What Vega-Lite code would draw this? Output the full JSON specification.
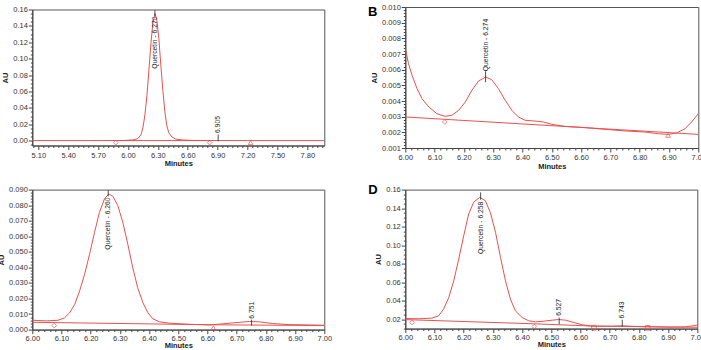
{
  "$schema": "https://vega.github.io/schema/vega-lite/v6.json",
  "background": "white",
  "padding": {"left": -3.7, "top": 2, "right": 0, "bottom": 0},
  "config": {
    "font": "Liberation Sans",
    "view": {"stroke": "#555", "strokeWidth": 1},
    "axis": {"labelFont": "Liberation Sans", "labelFontSize": 7.5, "labelColor": "#333", "titleFont": "Liberation Sans", "titleFontSize": 7.5, "titleFontWeight": "bold", "titleColor": "#222", "domainColor": "#444", "tickColor": "#444", "grid": false, "labelOverlap": false, "labelFlush": false, "labelBound": false, "tickSize": 3}
  },
  "datasets": {
    "A": [
      {"t": 5.04, "au": 0, "s": "c"}, {"t": 5.6, "au": 0, "s": "c"}, {"t": 5.95, "au": 0.0001, "s": "c"}, {"t": 6.05, "au": 0.0008, "s": "c"}, {"t": 6.1, "au": 0.0025, "s": "c"}, {"t": 6.13, "au": 0.007, "s": "c"}, {"t": 6.15, "au": 0.0157, "s": "c"}, {"t": 6.17, "au": 0.0313, "s": "c"}, {"t": 6.19, "au": 0.055, "s": "c"}, {"t": 6.21, "au": 0.0858, "s": "c"}, {"t": 6.23, "au": 0.118, "s": "c"}, {"t": 6.25, "au": 0.144, "s": "c"}, {"t": 6.272, "au": 0.155, "s": "c"}, {"t": 6.29, "au": 0.147, "s": "c"}, {"t": 6.31, "au": 0.124, "s": "c"}, {"t": 6.33, "au": 0.092, "s": "c"}, {"t": 6.35, "au": 0.061, "s": "c"}, {"t": 6.37, "au": 0.0354, "s": "c"}, {"t": 6.39, "au": 0.0182, "s": "c"}, {"t": 6.41, "au": 0.0095, "s": "c"}, {"t": 6.44, "au": 0.0045, "s": "c"}, {"t": 6.48, "au": 0.0018, "s": "c"}, {"t": 6.55, "au": 0.0007, "s": "c"}, {"t": 6.65, "au": 0.0002, "s": "c"}, {"t": 6.8, "au": 0.0001, "s": "c"}, {"t": 7.2, "au": 0, "s": "c"}, {"t": 7.97, "au": 0, "s": "c"},
      {"t": 5.878, "au": 0, "s": "b"}, {"t": 6.819, "au": 0, "s": "b"}
    ],
    "Am": [{"t": 5.878, "au": -0.0025, "m": "d"}, {"t": 6.819, "au": -0.0025, "m": "d"}, {"t": 7.23, "au": -0.0025, "m": "t"}],
    "Ar": [{"t": 6.27, "au": 0.1525, "hi": 0.159}, {"t": 6.905, "au": -0.001, "hi": 0.0075}],
    "Al": [{"t": 6.27, "au": 0.1515, "label": "Quercetin - 6.270", "dir": "d"}, {"t": 6.905, "au": 0.0092, "label": "6.905", "dir": "u"}],
    "B": [
      {"t": 6.0, "au": 0.00734, "s": "c"}, {"t": 6.011, "au": 0.00638, "s": "c"}, {"t": 6.023, "au": 0.00564, "s": "c"}, {"t": 6.04, "au": 0.00479, "s": "c"}, {"t": 6.057, "au": 0.00415, "s": "c"}, {"t": 6.08, "au": 0.00362, "s": "c"}, {"t": 6.108, "au": 0.00319, "s": "c"}, {"t": 6.136, "au": 0.00302, "s": "c"}, {"t": 6.159, "au": 0.00309, "s": "c"}, {"t": 6.182, "au": 0.0034, "s": "c"}, {"t": 6.205, "au": 0.00394, "s": "c"}, {"t": 6.227, "au": 0.00468, "s": "c"}, {"t": 6.25, "au": 0.00528, "s": "c"}, {"t": 6.275, "au": 0.00553, "s": "c"}, {"t": 6.295, "au": 0.00536, "s": "c"}, {"t": 6.318, "au": 0.00479, "s": "c"}, {"t": 6.341, "au": 0.00404, "s": "c"}, {"t": 6.364, "au": 0.0034, "s": "c"}, {"t": 6.386, "au": 0.00298, "s": "c"}, {"t": 6.409, "au": 0.00277, "s": "c"}, {"t": 6.443, "au": 0.00272, "s": "c"}, {"t": 6.472, "au": 0.00266, "s": "c"}, {"t": 6.5, "au": 0.00251, "s": "c"}, {"t": 6.545, "au": 0.00238, "s": "c"}, {"t": 6.614, "au": 0.0023, "s": "c"}, {"t": 6.682, "au": 0.00219, "s": "c"}, {"t": 6.75, "au": 0.00209, "s": "c"}, {"t": 6.818, "au": 0.00202, "s": "c"}, {"t": 6.864, "au": 0.00191, "s": "c"}, {"t": 6.898, "au": 0.00187, "s": "c"}, {"t": 6.926, "au": 0.00196, "s": "c"}, {"t": 6.955, "au": 0.00223, "s": "c"}, {"t": 6.977, "au": 0.00266, "s": "c"}, {"t": 7.0, "au": 0.00319, "s": "c"},
      {"t": 6.0, "au": 0.00298, "s": "b"}, {"t": 7.0, "au": 0.00187, "s": "b"}
    ],
    "Bm": [{"t": 6.135, "au": 0.00266, "m": "d"}, {"t": 6.897, "au": 0.00181, "m": "t"}],
    "Br": [{"t": 6.274, "au": 0.0052, "hi": 0.0059}],
    "Bl": [{"t": 6.274, "au": 0.0059, "label": "Quercetin - 6.274", "dir": "u"}],
    "Bt": [{"t": 5.889, "au": 0.00966, "label": "B"}],
    "C": [
      {"t": 6.0, "au": 0.006, "s": "c"}, {"t": 6.048, "au": 0.0056, "s": "c"}, {"t": 6.088, "au": 0.006, "s": "c"}, {"t": 6.11, "au": 0.0075, "s": "c"}, {"t": 6.128, "au": 0.0108, "s": "c"}, {"t": 6.145, "au": 0.0161, "s": "c"}, {"t": 6.162, "au": 0.0248, "s": "c"}, {"t": 6.179, "au": 0.0355, "s": "c"}, {"t": 6.196, "au": 0.0484, "s": "c"}, {"t": 6.213, "au": 0.0624, "s": "c"}, {"t": 6.23, "au": 0.0754, "s": "c"}, {"t": 6.247, "au": 0.084, "s": "c"}, {"t": 6.262, "au": 0.0872, "s": "c"}, {"t": 6.276, "au": 0.0857, "s": "c"}, {"t": 6.293, "au": 0.0797, "s": "c"}, {"t": 6.31, "au": 0.0689, "s": "c"}, {"t": 6.327, "au": 0.0549, "s": "c"}, {"t": 6.344, "au": 0.0398, "s": "c"}, {"t": 6.361, "au": 0.0269, "s": "c"}, {"t": 6.379, "au": 0.0172, "s": "c"}, {"t": 6.396, "au": 0.0108, "s": "c"}, {"t": 6.413, "au": 0.0069, "s": "c"}, {"t": 6.436, "au": 0.005, "s": "c"}, {"t": 6.47, "au": 0.0041, "s": "c"}, {"t": 6.538, "au": 0.0034, "s": "c"}, {"t": 6.607, "au": 0.003, "s": "c"}, {"t": 6.652, "au": 0.0037, "s": "c"}, {"t": 6.698, "au": 0.0045, "s": "c"}, {"t": 6.743, "au": 0.0052, "s": "c"}, {"t": 6.778, "au": 0.005, "s": "c"}, {"t": 6.823, "au": 0.0039, "s": "c"}, {"t": 6.88, "au": 0.0032, "s": "c"}, {"t": 7.0, "au": 0.0028, "s": "c"},
      {"t": 6.0, "au": 0.0047, "s": "b"}, {"t": 6.62, "au": 0.0031, "s": "b"}, {"t": 7.0, "au": 0.0026, "s": "b"}
    ],
    "Cm": [{"t": 6.075, "au": 0.0026, "m": "d"}, {"t": 6.62, "au": 0.0011, "m": "t"}],
    "Cr": [{"t": 6.26, "au": 0.0857, "hi": 0.0895}, {"t": 6.751, "au": 0.0026, "hi": 0.0063}],
    "Cl": [{"t": 6.26, "au": 0.085, "label": "Quercetin - 6.260", "dir": "d"}, {"t": 6.751, "au": 0.007, "label": "6.751", "dir": "u"}],
    "D": [
      {"t": 6.0, "au": 0.0207, "s": "c"}, {"t": 6.046, "au": 0.0204, "s": "c"}, {"t": 6.091, "au": 0.0211, "s": "c"}, {"t": 6.114, "au": 0.0236, "s": "c"}, {"t": 6.131, "au": 0.0308, "s": "c"}, {"t": 6.149, "au": 0.0435, "s": "c"}, {"t": 6.166, "au": 0.0615, "s": "c"}, {"t": 6.183, "au": 0.085, "s": "c"}, {"t": 6.2, "au": 0.11, "s": "c"}, {"t": 6.217, "au": 0.1337, "s": "c"}, {"t": 6.234, "au": 0.1463, "s": "c"}, {"t": 6.255, "au": 0.1517, "s": "c"}, {"t": 6.274, "au": 0.148, "s": "c"}, {"t": 6.291, "au": 0.1355, "s": "c"}, {"t": 6.309, "au": 0.1138, "s": "c"}, {"t": 6.326, "au": 0.0868, "s": "c"}, {"t": 6.343, "au": 0.0615, "s": "c"}, {"t": 6.36, "au": 0.0417, "s": "c"}, {"t": 6.377, "au": 0.029, "s": "c"}, {"t": 6.4, "au": 0.0218, "s": "c"}, {"t": 6.423, "au": 0.0182, "s": "c"}, {"t": 6.446, "au": 0.0171, "s": "c"}, {"t": 6.474, "au": 0.0178, "s": "c"}, {"t": 6.503, "au": 0.0189, "s": "c"}, {"t": 6.526, "au": 0.0196, "s": "c"}, {"t": 6.549, "au": 0.0189, "s": "c"}, {"t": 6.577, "au": 0.0164, "s": "c"}, {"t": 6.606, "au": 0.0139, "s": "c"}, {"t": 6.64, "au": 0.0124, "s": "c"}, {"t": 6.709, "au": 0.0124, "s": "c"}, {"t": 6.743, "au": 0.0128, "s": "c"}, {"t": 6.789, "au": 0.0121, "s": "c"}, {"t": 6.846, "au": 0.0117, "s": "c"}, {"t": 6.914, "au": 0.0113, "s": "c"}, {"t": 6.96, "au": 0.0117, "s": "c"}, {"t": 7.0, "au": 0.0135, "s": "c"},
      {"t": 6.0, "au": 0.0195, "s": "b"}, {"t": 6.44, "au": 0.015, "s": "b"}, {"t": 6.645, "au": 0.0125, "s": "b"}, {"t": 7.0, "au": 0.0112, "s": "b"}
    ],
    "Dm": [{"t": 6.023, "au": 0.0164, "m": "d"}, {"t": 6.442, "au": 0.0121, "m": "d"}, {"t": 6.646, "au": 0.0108, "m": "s"}, {"t": 6.83, "au": 0.0106, "m": "s"}],
    "Dr": [{"t": 6.258, "au": 0.149, "hi": 0.157}, {"t": 6.527, "au": 0.0146, "hi": 0.0218}, {"t": 6.743, "au": 0.012, "hi": 0.0193}],
    "Dl": [{"t": 6.258, "au": 0.147, "label": "Quercetin - 6.258", "dir": "d"}, {"t": 6.527, "au": 0.0236, "label": "6.527", "dir": "u"}, {"t": 6.743, "au": 0.0207, "label": "6.743", "dir": "u"}],
    "Dt": [{"t": 5.889, "au": 0.16, "label": "D"}]
  },
  "columns": 2,
  "bounds": "flush",
  "center": true,
  "spacing": {"row": 41.6, "column": 81},
  "concat": [
    {
      "width": 292, "height": 136,
      "encoding": {
        "x": {"field": "t", "type": "quantitative", "scale": {"domain": [5.04, 7.97], "nice": false, "zero": false},
          "axis": {"title": "Minutes", "values": [5.05,5.1,5.15,5.2,5.25,5.3,5.35,5.4,5.45,5.5,5.55,5.6,5.65,5.7,5.75,5.8,5.85,5.9,5.95,6,6.05,6.1,6.15,6.2,6.25,6.3,6.35,6.4,6.45,6.5,6.55,6.6,6.65,6.7,6.75,6.8,6.85,6.9,6.95,7,7.05,7.1,7.15,7.2,7.25,7.3,7.35,7.4,7.45,7.5,7.55,7.6,7.65,7.7,7.75,7.8,7.85,7.9,7.95],
            "labelExpr": "abs(datum.value*10/3 - round(datum.value*10/3)) < 1e-6 ? format(datum.value, '.2f') : ''",
            "tickSize": {"condition": {"test": "abs(datum.value*10/3 - round(datum.value*10/3)) < 1e-6", "value": 4}, "value": 2},
            "labelPadding": 1.5, "titlePadding": 1}},
        "y": {"field": "au", "type": "quantitative", "scale": {"domain": [-0.006, 0.16], "nice": false, "zero": false},
          "axis": {"title": "AU", "values": [-0.005,0,0.005,0.01,0.015,0.02,0.025,0.03,0.035,0.04,0.045,0.05,0.055,0.06,0.065,0.07,0.075,0.08,0.085,0.09,0.095,0.1,0.105,0.11,0.115,0.12,0.125,0.13,0.135,0.14,0.145,0.15,0.155,0.16],
            "labelExpr": "abs(datum.value*50 - round(datum.value*50)) < 1e-6 ? format(datum.value, '.2f') : ''",
            "tickSize": {"condition": {"test": "abs(datum.value*50 - round(datum.value*50)) < 1e-6", "value": 4}, "value": 2},
            "labelPadding": 1, "titlePadding": 3}}
      },
      "layer": [
        {"data": {"name": "A"}, "mark": {"type": "line", "color": "#e8504f", "strokeWidth": 1, "clip": true}, "encoding": {"detail": {"field": "s"}}},
        {"data": {"name": "Am"}, "mark": {"type": "point", "filled": false, "color": "#e8504f", "size": 22, "strokeWidth": 1}, "encoding": {"shape": {"field": "m", "type": "nominal", "scale": {"domain": ["d", "t", "s"], "range": ["diamond", "triangle-up", "square"]}, "legend": null}}},
        {"data": {"name": "Ar"}, "mark": {"type": "rule", "color": "#222", "strokeWidth": 0.8}, "encoding": {"y2": {"field": "hi"}}},
        {"data": {"name": "Al"}, "transform": [{"filter": "datum.dir == 'd'"}], "mark": {"type": "text", "angle": 270, "align": "right", "baseline": "middle", "fontSize": 6.8, "color": "#222"}, "encoding": {"text": {"field": "label"}}},
        {"data": {"name": "Al"}, "transform": [{"filter": "datum.dir == 'u'"}], "mark": {"type": "text", "angle": 270, "align": "left", "baseline": "middle", "fontSize": 6.8, "color": "#222"}, "encoding": {"text": {"field": "label"}}}
      ]
    },
    {
      "width": 293, "height": 141,
      "encoding": {
        "x": {"field": "t", "type": "quantitative", "scale": {"domain": [6, 7], "nice": false, "zero": false},
          "axis": {"title": "Minutes", "values": [6,6.02,6.04,6.06,6.08,6.1,6.12,6.14,6.16,6.18,6.2,6.22,6.24,6.26,6.28,6.3,6.32,6.34,6.36,6.38,6.4,6.42,6.44,6.46,6.48,6.5,6.52,6.54,6.56,6.58,6.6,6.62,6.64,6.66,6.68,6.7,6.72,6.74,6.76,6.78,6.8,6.82,6.84,6.86,6.88,6.9,6.92,6.94,6.96,6.98,7],
            "labelExpr": "abs(datum.value*10 - round(datum.value*10)) < 1e-6 ? format(datum.value, '.2f') : ''",
            "tickSize": {"condition": {"test": "abs(datum.value*10 - round(datum.value*10)) < 1e-6", "value": 4}, "value": 2},
            "labelPadding": 1.5, "titlePadding": 1}},
        "y": {"field": "au", "type": "quantitative", "scale": {"domain": [0.001, 0.01], "nice": false, "zero": false},
          "axis": {"title": "AU", "values": [0.001,0.0012,0.0014,0.0016,0.0018,0.002,0.0022,0.0024,0.0026,0.0028,0.003,0.0032,0.0034,0.0036,0.0038,0.004,0.0042,0.0044,0.0046,0.0048,0.005,0.0052,0.0054,0.0056,0.0058,0.006,0.0062,0.0064,0.0066,0.0068,0.007,0.0072,0.0074,0.0076,0.0078,0.008,0.0082,0.0084,0.0086,0.0088,0.009,0.0092,0.0094,0.0096,0.0098,0.01],
            "labelExpr": "abs(datum.value*1000 - round(datum.value*1000)) < 1e-6 ? format(datum.value, '.3f') : ''",
            "tickSize": {"condition": {"test": "abs(datum.value*1000 - round(datum.value*1000)) < 1e-6", "value": 4}, "value": 2},
            "labelPadding": 1, "titlePadding": 3}}
      },
      "layer": [
        {"data": {"name": "B"}, "mark": {"type": "line", "color": "#e8504f", "strokeWidth": 1, "clip": true}, "encoding": {"detail": {"field": "s"}}},
        {"data": {"name": "Bm"}, "mark": {"type": "point", "filled": false, "color": "#e8504f", "size": 22, "strokeWidth": 1}, "encoding": {"shape": {"field": "m", "type": "nominal", "scale": {"domain": ["d", "t", "s"], "range": ["diamond", "triangle-up", "square"]}, "legend": null}}},
        {"data": {"name": "Br"}, "mark": {"type": "rule", "color": "#222", "strokeWidth": 0.8}, "encoding": {"y2": {"field": "hi"}}},
        {"data": {"name": "Bl"}, "mark": {"type": "text", "angle": 270, "align": "left", "baseline": "middle", "fontSize": 6.8, "color": "#222"}, "encoding": {"text": {"field": "label"}}},
        {"data": {"name": "Bt"}, "mark": {"type": "text", "align": "center", "baseline": "middle", "fontSize": 13, "fontWeight": "bold", "color": "#000"}, "encoding": {"text": {"field": "label"}}}
      ]
    },
    {
      "width": 292, "height": 140,
      "encoding": {
        "x": {"field": "t", "type": "quantitative", "scale": {"domain": [6, 7], "nice": false, "zero": false},
          "axis": {"title": "Minutes", "values": [6,6.02,6.04,6.06,6.08,6.1,6.12,6.14,6.16,6.18,6.2,6.22,6.24,6.26,6.28,6.3,6.32,6.34,6.36,6.38,6.4,6.42,6.44,6.46,6.48,6.5,6.52,6.54,6.56,6.58,6.6,6.62,6.64,6.66,6.68,6.7,6.72,6.74,6.76,6.78,6.8,6.82,6.84,6.86,6.88,6.9,6.92,6.94,6.96,6.98,7],
            "labelExpr": "abs(datum.value*10 - round(datum.value*10)) < 1e-6 ? format(datum.value, '.2f') : ''",
            "tickSize": {"condition": {"test": "abs(datum.value*10 - round(datum.value*10)) < 1e-6", "value": 4}, "value": 2},
            "labelPadding": 0.5, "titlePadding": 0}},
        "y": {"field": "au", "type": "quantitative", "scale": {"domain": [0, 0.09], "nice": false, "zero": false},
          "axis": {"title": "AU", "values": [0,0.002,0.004,0.006,0.008,0.01,0.012,0.014,0.016,0.018,0.02,0.022,0.024,0.026,0.028,0.03,0.032,0.034,0.036,0.038,0.04,0.042,0.044,0.046,0.048,0.05,0.052,0.054,0.056,0.058,0.06,0.062,0.064,0.066,0.068,0.07,0.072,0.074,0.076,0.078,0.08,0.082,0.084,0.086,0.088,0.09],
            "labelExpr": "abs(datum.value*100 - round(datum.value*100)) < 1e-6 ? format(datum.value, '.3f') : ''",
            "tickSize": {"condition": {"test": "abs(datum.value*100 - round(datum.value*100)) < 1e-6", "value": 4}, "value": 2},
            "labelPadding": 1, "titlePadding": 3}}
      },
      "layer": [
        {"data": {"name": "C"}, "mark": {"type": "line", "color": "#e8504f", "strokeWidth": 1, "clip": true}, "encoding": {"detail": {"field": "s"}}},
        {"data": {"name": "Cm"}, "mark": {"type": "point", "filled": false, "color": "#e8504f", "size": 22, "strokeWidth": 1}, "encoding": {"shape": {"field": "m", "type": "nominal", "scale": {"domain": ["d", "t", "s"], "range": ["diamond", "triangle-up", "square"]}, "legend": null}}},
        {"data": {"name": "Cr"}, "mark": {"type": "rule", "color": "#222", "strokeWidth": 0.8}, "encoding": {"y2": {"field": "hi"}}},
        {"data": {"name": "Cl"}, "transform": [{"filter": "datum.dir == 'd'"}], "mark": {"type": "text", "angle": 270, "align": "right", "baseline": "middle", "fontSize": 6.8, "color": "#222"}, "encoding": {"text": {"field": "label"}}},
        {"data": {"name": "Cl"}, "transform": [{"filter": "datum.dir == 'u'"}], "mark": {"type": "text", "angle": 270, "align": "left", "baseline": "middle", "fontSize": 6.8, "color": "#222"}, "encoding": {"text": {"field": "label"}}}
      ]
    },
    {
      "width": 292, "height": 139,
      "encoding": {
        "x": {"field": "t", "type": "quantitative", "scale": {"domain": [6, 7], "nice": false, "zero": false},
          "axis": {"title": "Minutes", "values": [6,6.02,6.04,6.06,6.08,6.1,6.12,6.14,6.16,6.18,6.2,6.22,6.24,6.26,6.28,6.3,6.32,6.34,6.36,6.38,6.4,6.42,6.44,6.46,6.48,6.5,6.52,6.54,6.56,6.58,6.6,6.62,6.64,6.66,6.68,6.7,6.72,6.74,6.76,6.78,6.8,6.82,6.84,6.86,6.88,6.9,6.92,6.94,6.96,6.98,7],
            "labelExpr": "abs(datum.value*10 - round(datum.value*10)) < 1e-6 ? format(datum.value, '.2f') : ''",
            "tickSize": {"condition": {"test": "abs(datum.value*10 - round(datum.value*10)) < 1e-6", "value": 4}, "value": 2},
            "labelPadding": 0.5, "titlePadding": 0}},
        "y": {"field": "au", "type": "quantitative", "scale": {"domain": [0.0098, 0.16], "nice": false, "zero": false},
          "axis": {"title": "AU", "values": [0.01,0.015,0.02,0.025,0.03,0.035,0.04,0.045,0.05,0.055,0.06,0.065,0.07,0.075,0.08,0.085,0.09,0.095,0.1,0.105,0.11,0.115,0.12,0.125,0.13,0.135,0.14,0.145,0.15,0.155,0.16],
            "labelExpr": "abs(datum.value*50 - round(datum.value*50)) < 1e-6 ? format(datum.value, '.2f') : ''",
            "tickSize": {"condition": {"test": "abs(datum.value*50 - round(datum.value*50)) < 1e-6", "value": 4}, "value": 2},
            "labelPadding": 1, "titlePadding": 3}}
      },
      "layer": [
        {"data": {"name": "D"}, "mark": {"type": "line", "color": "#e8504f", "strokeWidth": 1, "clip": true}, "encoding": {"detail": {"field": "s"}}},
        {"data": {"name": "Dm"}, "mark": {"type": "point", "filled": false, "color": "#e8504f", "size": 22, "strokeWidth": 1}, "encoding": {"shape": {"field": "m", "type": "nominal", "scale": {"domain": ["d", "t", "s"], "range": ["diamond", "triangle-up", "square"]}, "legend": null}}},
        {"data": {"name": "Dr"}, "mark": {"type": "rule", "color": "#222", "strokeWidth": 0.8}, "encoding": {"y2": {"field": "hi"}}},
        {"data": {"name": "Dl"}, "transform": [{"filter": "datum.dir == 'd'"}], "mark": {"type": "text", "angle": 270, "align": "right", "baseline": "middle", "fontSize": 6.8, "color": "#222"}, "encoding": {"text": {"field": "label"}}},
        {"data": {"name": "Dl"}, "transform": [{"filter": "datum.dir == 'u'"}], "mark": {"type": "text", "angle": 270, "align": "left", "baseline": "middle", "fontSize": 6.8, "color": "#222"}, "encoding": {"text": {"field": "label"}}},
        {"data": {"name": "Dt"}, "mark": {"type": "text", "align": "center", "baseline": "middle", "fontSize": 13, "fontWeight": "bold", "color": "#000"}, "encoding": {"text": {"field": "label"}}}
      ]
    }
  ]
}
